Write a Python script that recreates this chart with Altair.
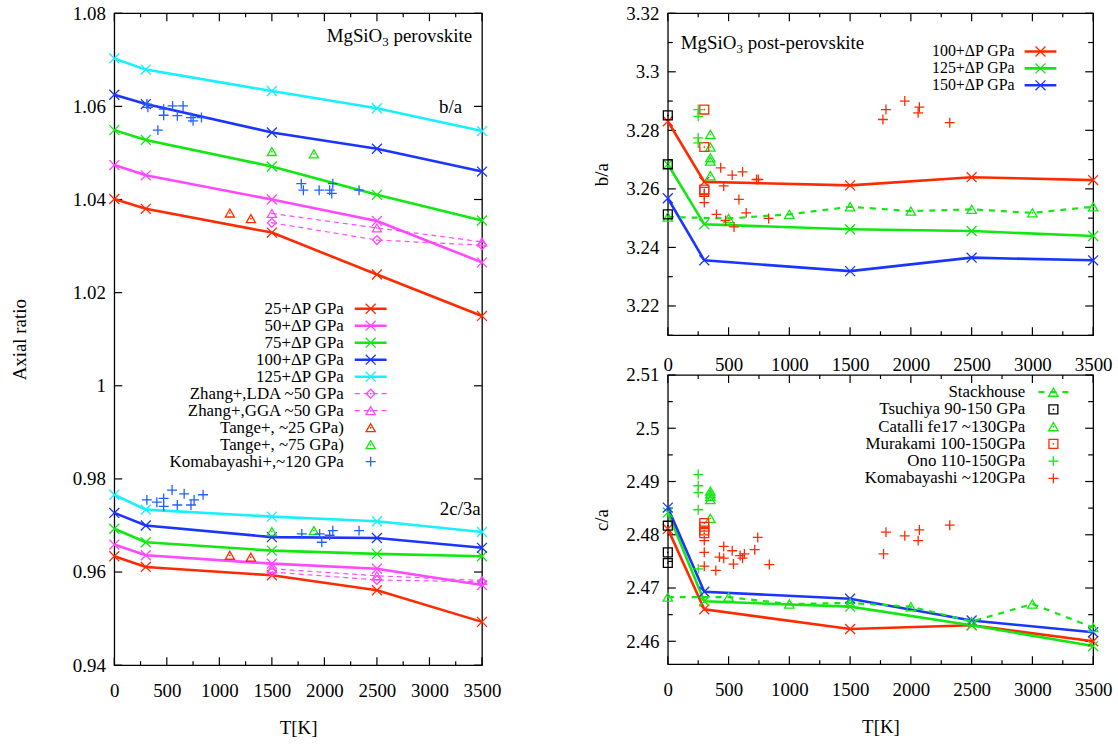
import altair as alt
import pandas as pd

FONT = "Liberation Serif"
FS = 19
LFS_LEFT = 17
LFS_RT = 16
LFS_RB = 17

RED = "#ff2a00"
MAG = "#ff48ff"
GRN = "#10e810"
BLU = "#1a35ff"
CYN = "#16f0ff"
KBLU = "#2060ff"
BLK = "#000000"

CROSS = "M-1,-1L1,1M-1,1L1,-1"
PLUS = "M-1,0L1,0M0,-1L0,1"

# ---------------- left panel: MgSiO3 perovskite ----------------
T_CALC = [0, 300, 1500, 2500, 3500]
PV_LABELS = ["25+ΔP GPa", "50+ΔP GPa", "75+ΔP GPa", "100+ΔP GPa", "125+ΔP GPa"]
PV_COLORS = [RED, MAG, GRN, BLU, CYN]
PV_BA_25 = [1.0401, 1.0380, 1.0329, 1.0239, 1.0150]
PV_BA_50 = [1.0474, 1.0452, 1.0400, 1.0354, 1.0265]
PV_BA_75 = [1.0549, 1.0528, 1.0471, 1.0410, 1.0355]
PV_BA_100 = [1.0625, 1.0605, 1.0544, 1.0509, 1.0460]
PV_BA_125 = [1.0703, 1.0679, 1.0633, 1.0596, 1.0547]
PV_CA_25 = [0.9634, 0.9611, 0.9593, 0.9561, 0.9493]
PV_CA_50 = [0.9659, 0.9636, 0.9618, 0.9607, 0.9572]
PV_CA_75 = [0.9693, 0.9664, 0.9646, 0.9639, 0.9634]
PV_CA_100 = [0.9727, 0.9700, 0.9675, 0.9673, 0.9652]
PV_CA_125 = [0.9766, 0.9734, 0.9719, 0.9709, 0.9686]

T_ZHANG = [1500, 2500, 3500]
ZHANG_LDA_BA = [1.0350, 1.0313, 1.0302]
ZHANG_GGA_BA = [1.0370, 1.0339, 1.0309]
ZHANG_LDA_CA = [0.9600, 0.9583, 0.9579]
ZHANG_GGA_CA = [0.9607, 0.9592, 0.9582]

TANGE25_T = [1100, 1300]
TANGE25_BA = [1.0371, 1.0359]
TANGE25_CA = [0.9636, 0.9632]
TANGE75_T = [1500, 1900]
TANGE75_BA = [1.0503, 1.0498]
TANGE75_CA = [0.9687, 0.9689]

KOMA_PV_T_BA = [310, 320, 415, 470, 470, 555, 600, 655, 730, 750, 830,
                1780, 1800, 1950, 2050, 2070, 2080, 2330]
KOMA_PV_BA = [1.0605, 1.0598, 1.0549, 1.0594, 1.0581, 1.0601, 1.0580, 1.0601, 1.0576, 1.0569, 1.0576,
              1.0434, 1.0420, 1.0420, 1.0420, 1.0413, 1.0434, 1.0420]
KOMA_PV_T_CA = [310, 405, 470, 470, 550, 600, 665, 730, 760, 845,
                1785, 1955, 1975, 2050, 2080, 2330]
KOMA_PV_CA = [0.9755, 0.9750, 0.9758, 0.9741, 0.9776, 0.9744, 0.9768, 0.9744, 0.9755, 0.9766,
              0.9682, 0.9682, 0.9664, 0.9679, 0.9689, 0.9689]

LEFT_EXTRA_LABELS = ["Zhang+,LDA ~50 GPa", "Zhang+,GGA ~50 GPa", "Tange+, ~25 GPa)",
                     "Tange+, ~75 GPa)", "Komabayashi+,~120 GPa"]

# ---------------- right panels: MgSiO3 post-perovskite ----------------
PPV_LABELS = ["100+ΔP GPa", "125+ΔP GPa", "150+ΔP GPa"]
PPV_COLORS = [RED, GRN, BLU]
PPV_BA_100 = [3.2831, 3.2624, 3.2612, 3.2640, 3.2630]
PPV_BA_125 = [3.2684, 3.2479, 3.2462, 3.2456, 3.2439]
PPV_BA_150 = [3.2568, 3.2356, 3.2319, 3.2365, 3.2356]
PPV_CA_100 = [2.4811, 2.4660, 2.4623, 2.4630, 2.4600]
PPV_CA_125 = [2.4842, 2.4675, 2.4665, 2.4630, 2.4591]
PPV_CA_150 = [2.4851, 2.4693, 2.4680, 2.4639, 2.4617]

STACK_T = [0, 500, 1000, 1500, 2000, 2500, 3000, 3500]
STACK_BA = [3.2504, 3.2499, 3.2513, 3.2539, 3.2524, 3.2530, 3.2518, 3.2539]
STACK_CA = [2.4683, 2.4683, 2.4670, 2.4672, 2.4665, 2.4637, 2.4670, 2.4626]

TSU_BA = [3.2851, 3.2684, 3.2513]
TSU_CA = [2.4817, 2.4767, 2.4747]
CAT_BA = [3.2786, 3.2743, 3.2706, 3.2695, 3.2645]
CAT_CA = [2.4882, 2.4877, 2.4872, 2.4866, 2.4831]
MUR_BA = [3.2871, 3.2743, 3.2598, 3.2590]
MUR_CA = [2.4822, 2.4815, 2.4808, 2.4803]
ONO_BA = [3.2871, 3.2848, 3.2774, 3.2757]
ONO_CA = [2.4913, 2.4892, 2.4879, 2.4847, 2.4736]
TSU_T, CAT_T, MUR_T, ONO_T = 0, 350, 300, 250

KOMA_PPV_T_BA = [300, 300, 400, 435, 460, 475, 530, 545, 585, 615, 645, 730, 745, 830,
                 1770, 1795, 1950, 2060, 2070, 2320]
KOMA_PPV_BA = [3.2581, 3.2553, 3.2513, 3.2672, 3.2610, 3.2492, 3.2647, 3.2470, 3.2564, 3.2658,
               3.2518, 3.2632, 3.2632, 3.2499, 3.2837, 3.2871, 3.2900, 3.2860, 3.2879, 3.2826]
KOMA_PPV_T_CA = [300, 300, 300, 395, 460, 425, 460, 530, 540, 595, 615, 630, 715, 740, 835,
                 1775, 1795, 1950, 2060, 2070, 2320]
KOMA_PPV_CA = [2.4789, 2.4767, 2.4741, 2.4733, 2.4778, 2.4758, 2.4756, 2.4770, 2.4745, 2.4761,
               2.4756, 2.4764, 2.4772, 2.4795, 2.4744, 2.4764, 2.4805, 2.4798, 2.4789, 2.4809, 2.4818]

RB_LABELS = ["Stackhouse", "Tsuchiya 90-150 GPa", "Catalli fe17 ~130GPa",
             "Murakami 100-150GPa", "Ono 110-150GPa", "Komabayashi ~120GPa"]

X_MAJOR = [0, 500, 1000, 1500, 2000, 2500, 3000, 3500]
X_MINOR = [250, 750, 1250, 1750, 2250, 2750, 3250]
L_Y_MAJOR = [0.94, 0.96, 0.98, 1.0, 1.02, 1.04, 1.06, 1.08]
RT_Y_MAJOR = [3.22, 3.24, 3.26, 3.28, 3.30, 3.32]
RT_Y_MINOR = [3.21, 3.23, 3.25, 3.27, 3.29, 3.31]
RB_Y_MAJOR = [2.46, 2.47, 2.48, 2.49, 2.50, 2.51]
RB_Y_MINOR = [2.465, 2.475, 2.485, 2.495, 2.505]

ONE = pd.DataFrame({"k": [0]})


def df_of(T, V, g="a"):
    if not isinstance(T, list):
        T = [T] * len(V)
    return pd.DataFrame({"T": T, "v": V, "g": g})


def curves_df(labels, colors, series):
    rows = []
    for lab, col, parts in zip(labels, colors, series):
        for kind, vals in parts:
            for t, v in zip(T_CALC, vals):
                rows.append({"T": t, "v": v, "s": lab, "c": col, "g": lab + kind})
    return pd.DataFrame(rows)


def enc_xy(sx, sy):
    return dict(x=alt.X("T:Q", scale=sx), y=alt.Y("v:Q", scale=sy))


def pts(df, sx, sy, shape, color, size, dot=False, sw=1.3):
    out = [alt.Chart(df).mark_point(shape=shape, filled=False, color=color, size=size,
                                    strokeWidth=sw, opacity=1).encode(**enc_xy(sx, sy))]
    if dot:
        out.append(alt.Chart(df).mark_point(shape="circle", filled=True, color=color, size=3,
                                            opacity=1).encode(**enc_xy(sx, sy)))
    return out


def dashed(df, sx, sy, color, width, dash):
    return alt.Chart(df).mark_line(color=color, strokeWidth=width, strokeDash=dash).encode(
        detail="g:N", **enc_xy(sx, sy))


def curves(df, sx, sy):
    col = alt.Color("c:N", scale=None)
    line = alt.Chart(df).mark_line(strokeWidth=2.6).encode(detail="g:N", color=col, **enc_xy(sx, sy))
    mk = alt.Chart(df).mark_point(shape=CROSS, filled=False, size=100, strokeWidth=1.3,
                                  opacity=1).encode(color=col, **enc_xy(sx, sy))
    return [line, mk]


def ticks(W, H, sx, sy, xmaj, xmin, ymaj, ymin, xaxis, yaxis, L=8, l=4):
    rule = dict(color="black", strokeWidth=1.2)
    dxM = pd.DataFrame({"T": xmaj})
    dxm = pd.DataFrame({"T": xmin})
    dyM = pd.DataFrame({"v": ymaj})
    out = [
        alt.Chart(dxM).mark_rule(**rule).encode(x=alt.X("T:Q", scale=sx, axis=xaxis),
                                                 y=alt.value(H), y2=alt.value(H - L)),
        alt.Chart(dyM).mark_rule(**rule).encode(y=alt.Y("v:Q", scale=sy, axis=yaxis),
                                                 x=alt.value(0), x2=alt.value(L)),
        alt.Chart(dxM).mark_rule(**rule).encode(x=alt.X("T:Q", scale=sx),
                                                 y=alt.value(0), y2=alt.value(L)),
        alt.Chart(dxm).mark_rule(**rule).encode(x=alt.X("T:Q", scale=sx),
                                                 y=alt.value(H), y2=alt.value(H - l)),
        alt.Chart(dxm).mark_rule(**rule).encode(x=alt.X("T:Q", scale=sx),
                                                 y=alt.value(0), y2=alt.value(l)),
        alt.Chart(dyM).mark_rule(**rule).encode(y=alt.Y("v:Q", scale=sy),
                                                 x=alt.value(W), x2=alt.value(W - L)),
    ]
    if ymin:
        dym = pd.DataFrame({"v": ymin})
        out += [
            alt.Chart(dym).mark_rule(**rule).encode(y=alt.Y("v:Q", scale=sy),
                                                     x=alt.value(0), x2=alt.value(l + 1)),
            alt.Chart(dym).mark_rule(**rule).encode(y=alt.Y("v:Q", scale=sy),
                                                     x=alt.value(W), x2=alt.value(W - l - 1)),
        ]
    return out


def xaxis(W, title, pad=17):
    kw = dict(values=X_MAJOR, format="d", labelPadding=pad, labelFlush=False, labelOverlap=False)
    if title:
        kw.update(title=title, titleX=W / 2, titleY=63, titleAlign="center", titleBaseline="middle",
                  titleAngle=0)
    else:
        kw.update(title=None)
    return alt.Axis(**kw)


def yaxis(vals, H, title, tx):
    return alt.Axis(values=vals, format="~g", labelPadding=9, labelOverlap=False, title=title,
                    titleX=tx, titleY=H / 2, titleAngle=270, titleAlign="center",
                    titleBaseline="middle")


def text(s, x, y, align="left", size=FS):
    return alt.Chart(ONE).mark_text(text=s, align=align, baseline="middle", font=FONT,
                                    fontSize=size, color="black").encode(x=alt.value(x), y=alt.value(y))


def legend(items, right, y0, dy, lx1, lx2, mx, fs):
    out = []
    for i, it in enumerate(items):
        y = y0 + i * dy
        out.append(text(it["label"], right, y, align="right", size=fs))
        if it.get("lw"):
            kw = dict(color=it["color"], strokeWidth=it["lw"])
            if it.get("dash"):
                kw["strokeDash"] = it["dash"]
            out.append(alt.Chart(ONE).mark_rule(**kw).encode(
                x=alt.value(lx1), x2=alt.value(lx2), y=alt.value(y)))
        out.append(alt.Chart(ONE).mark_point(shape=it["shape"], filled=False, color=it["color"],
                                             size=it["size"], strokeWidth=1.3, opacity=1).encode(
            x=alt.value(mx), y=alt.value(y)))
        if it.get("dot"):
            out.append(alt.Chart(ONE).mark_point(shape="circle", filled=True, color=it["color"],
                                                 size=3, opacity=1).encode(
                x=alt.value(mx), y=alt.value(y)))
    return out


# ================= left panel =================
LW, LH = 370, 656
lsx = alt.Scale(domain=[0, 3500], nice=False, zero=False)
lsy = alt.Scale(domain=[0.94, 1.08], nice=False, zero=False)

pv_df = curves_df(PV_LABELS, PV_COLORS, [
    [("ba", PV_BA_25), ("ca", PV_CA_25)],
    [("ba", PV_BA_50), ("ca", PV_CA_50)],
    [("ba", PV_BA_75), ("ca", PV_CA_75)],
    [("ba", PV_BA_100), ("ca", PV_CA_100)],
    [("ba", PV_BA_125), ("ca", PV_CA_125)],
])
lda = pd.concat([df_of(T_ZHANG, ZHANG_LDA_BA, "ba"), df_of(T_ZHANG, ZHANG_LDA_CA, "ca")])
gga = pd.concat([df_of(T_ZHANG, ZHANG_GGA_BA, "ba"), df_of(T_ZHANG, ZHANG_GGA_CA, "ca")])
t25 = pd.concat([df_of(TANGE25_T, TANGE25_BA), df_of(TANGE25_T, TANGE25_CA)])
t75 = pd.concat([df_of(TANGE75_T, TANGE75_BA), df_of(TANGE75_T, TANGE75_CA)])
kpv = pd.concat([df_of(KOMA_PV_T_BA, KOMA_PV_BA), df_of(KOMA_PV_T_CA, KOMA_PV_CA)])

left_layers = []
left_layers += ticks(LW, LH, lsx, lsy, X_MAJOR, X_MINOR, L_Y_MAJOR, None,
                     xaxis(LW, "T[K]"), yaxis(L_Y_MAJOR, LH, "Axial ratio", -95))
left_layers += curves(pv_df, lsx, lsy)
left_layers.append(dashed(lda, lsx, lsy, MAG, 1.2, [5, 4]))
left_layers += pts(lda, lsx, lsy, "diamond", MAG, 80, dot=True)
left_layers.append(dashed(gga, lsx, lsy, MAG, 1.2, [5, 4]))
left_layers += pts(gga, lsx, lsy, "triangle-up", MAG, 85, dot=True)
left_layers += pts(t25, lsx, lsy, "triangle-up", RED, 85, dot=True)
left_layers += pts(t75, lsx, lsy, "triangle-up", GRN, 85, dot=True)
left_layers += pts(kpv, lsx, lsy, PLUS, KBLU, 100)

left_items = [dict(label=l, color=c, lw=2.6, shape=CROSS, size=100) for l, c in zip(PV_LABELS, PV_COLORS)]
left_items += [
    dict(label=LEFT_EXTRA_LABELS[0], color=MAG, lw=1.2, dash=[5, 4], shape="diamond", size=80, dot=True),
    dict(label=LEFT_EXTRA_LABELS[1], color=MAG, lw=1.2, dash=[5, 4], shape="triangle-up", size=85, dot=True),
    dict(label=LEFT_EXTRA_LABELS[2], color=RED, shape="triangle-up", size=85, dot=True),
    dict(label=LEFT_EXTRA_LABELS[3], color=GRN, shape="triangle-up", size=85, dot=True),
    dict(label=LEFT_EXTRA_LABELS[4], color=KBLU, shape=PLUS, size=100),
]
left_layers += legend(left_items, 231, 297.3, 17.1, 242, 274, 258, LFS_LEFT)
left_layers += [
    text("MgSiO", 213.7, 23),
    text("3", 269.7, 29, size=13),
    text("perovskite", 281, 23),
    text("b/a", 350, 94, align="right"),
    text("2c/3a", 368.7, 499, align="right"),
]
left = alt.layer(*left_layers).properties(width=LW, height=LH)

# ================= right top panel =================
RW, RTH, RBH = 428, 324, 291
rsx = alt.Scale(domain=[0, 3500], nice=False, zero=False)
rtsy = alt.Scale(domain=[3.21, 3.32], nice=False, zero=False)

ppv_ba = curves_df(PPV_LABELS, PPV_COLORS,
                   [[("ba", PPV_BA_100)], [("ba", PPV_BA_125)], [("ba", PPV_BA_150)]])
rt_layers = []
rt_layers += ticks(RW, RTH, rsx, rtsy, X_MAJOR, X_MINOR, RT_Y_MAJOR, RT_Y_MINOR,
                   xaxis(RW, None, pad=20), yaxis(RT_Y_MAJOR, RTH, "b/a", -67))
rt_layers += curves(ppv_ba, rsx, rtsy)
stack_ba = df_of(STACK_T, STACK_BA)
rt_layers.append(dashed(stack_ba, rsx, rtsy, GRN, 2.2, [6, 6]))
rt_layers += pts(stack_ba, rsx, rtsy, "triangle-up", GRN, 90, dot=True)
rt_layers += pts(df_of(TSU_T, TSU_BA), rsx, rtsy, "square", BLK, 80, dot=True)
rt_layers += pts(df_of(CAT_T, CAT_BA), rsx, rtsy, "triangle-up", GRN, 90, dot=True)
rt_layers += pts(df_of(MUR_T, MUR_BA), rsx, rtsy, "square", RED, 80, dot=True)
rt_layers += pts(df_of(ONO_T, ONO_BA), rsx, rtsy, PLUS, GRN, 100)
rt_layers += pts(df_of(KOMA_PPV_T_BA, KOMA_PPV_BA), rsx, rtsy, PLUS, RED, 100)
rt_items = [dict(label=l, color=c, lw=2.6, shape=CROSS, size=100) for l, c in zip(PPV_LABELS, PPV_COLORS)]
rt_layers += legend(rt_items, 349, 38.5, 17.0, 359, 391, 375, LFS_RT)
rt_layers += [
    text("MgSiO", 13, 30),
    text("3", 69, 36, size=13),
    text("post-perovskite", 80.5, 30),
]
rt = alt.layer(*rt_layers).properties(width=RW, height=RTH)

# ================= right bottom panel =================
rbsy = alt.Scale(domain=[2.4557, 2.51], nice=False, zero=False)
ppv_ca = curves_df(PPV_LABELS, PPV_COLORS,
                   [[("ca", PPV_CA_100)], [("ca", PPV_CA_125)], [("ca", PPV_CA_150)]])
rb_layers = []
rb_layers += ticks(RW, RBH, rsx, rbsy, X_MAJOR, X_MINOR, RB_Y_MAJOR, RB_Y_MINOR,
                   xaxis(RW, "T[K]"), yaxis(RB_Y_MAJOR, RBH, "c/a", -67))
rb_layers += curves(ppv_ca, rsx, rbsy)
stack_ca = df_of(STACK_T, STACK_CA)
rb_layers.append(dashed(stack_ca, rsx, rbsy, GRN, 2.2, [6, 6]))
rb_layers += pts(stack_ca, rsx, rbsy, "triangle-up", GRN, 90, dot=True)
rb_layers += pts(df_of(TSU_T, TSU_CA), rsx, rbsy, "square", BLK, 80, dot=True)
rb_layers += pts(df_of(CAT_T, CAT_CA), rsx, rbsy, "triangle-up", GRN, 90, dot=True)
rb_layers += pts(df_of(MUR_T, MUR_CA), rsx, rbsy, "square", RED, 80, dot=True)
rb_layers += pts(df_of(ONO_T, ONO_CA), rsx, rbsy, PLUS, GRN, 100)
rb_layers += pts(df_of(KOMA_PPV_T_CA, KOMA_PPV_CA), rsx, rbsy, PLUS, RED, 100)
rb_items = [
    dict(label=RB_LABELS[0], color=GRN, lw=2.2, dash=[6, 6], shape="triangle-up", size=90, dot=True),
    dict(label=RB_LABELS[1], color=BLK, shape="square", size=80, dot=True),
    dict(label=RB_LABELS[2], color=GRN, shape="triangle-up", size=90, dot=True),
    dict(label=RB_LABELS[3], color=RED, shape="square", size=80, dot=True),
    dict(label=RB_LABELS[4], color=GRN, shape=PLUS, size=100),
    dict(label=RB_LABELS[5], color=RED, shape=PLUS, size=100),
]
rb_layers += legend(rb_items, 359.7, 17.3, 17.35, 373, 405, 388, LFS_RB)
rb = alt.layer(*rb_layers).properties(width=RW, height=RBH)

chart = alt.hconcat(
    left,
    alt.vconcat(rt, rb, spacing=40, bounds="flush"),
    spacing=187,
    bounds="flush",
).properties(
    padding={"left": 10, "top": 1, "right": 5, "bottom": 5},
    background="white",
).configure_view(
    stroke="black", strokeWidth=1.3
).configure_axis(
    labelFont=FONT, labelFontSize=FS, labelColor="black",
    titleFont=FONT, titleFontSize=FS, titleFontWeight="normal", titleColor="black",
    ticks=False, tickSize=0, domain=False, grid=False,
)

chart.save("out.html", embed_options={"renderer": "svg", "actions": False})
